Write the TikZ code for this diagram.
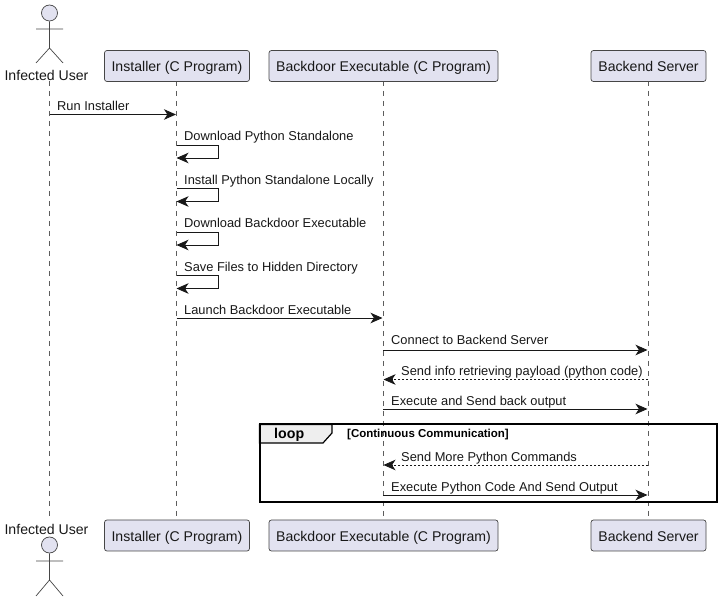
\documentclass[tikz,border=0pt]{standalone}
\usepackage{fontspec}
\setmainfont{Liberation Sans}
\usetikzlibrary{arrows.meta}
\definecolor{pfill}{HTML}{E2E2F0}
\definecolor{pline}{HTML}{181818}
\definecolor{tabfill}{HTML}{EEEEEE}
\tikzset{
  part/.style={draw=pline!80,line width=0.7pt,fill=pfill,rounded corners=2.5pt,minimum height=31pt,inner sep=0pt,text height=13pt,text depth=1.6pt,font=\fontsize{14.1}{16}\selectfont,text=pline},
  lifeline/.style={draw=pline!70,line width=0.6pt,dash pattern=on 5pt off 5pt},
  headtip/.style={-{Stealth[inset=3.4pt,length=12pt,width=10.5pt,fill=pline]}},
  msg/.style={headtip,draw=pline,line width=0.9pt},
  reply/.style={msg,line width=0.7pt,dash pattern=on 2pt off 2pt},
  lbl/.style={anchor=base west,inner sep=0pt,font=\fontsize{12.85}{15}\selectfont,text=pline},
  actorhead/.style={draw=pline!80,line width=0.7pt,fill=pfill,circle,minimum size=16pt,inner sep=0pt},
  actorline/.style={draw=pline!80,line width=0.7pt},
  actorname/.style={inner sep=0pt,font=\fontsize{14.1}{16}\selectfont,text=pline},
  frameline/.style={draw=black,line width=2pt},
  tabshape/.style={draw=black,line width=1.2pt,fill=tabfill},
}
\begin{document}
\begin{tikzpicture}[x=1pt,y=-1pt]
\useasboundingbox (0,0) rectangle (721,601);
% lifeline ends
\coordinate (ut) at (49.5,81); \coordinate (ub) at (49.5,519);
\coordinate (it) at (176.5,81); \coordinate (ib) at (176.5,519);
\coordinate (bt) at (383,81); \coordinate (bb) at (383,519);
\coordinate (st) at (648,81); \coordinate (sb) at (648,519);
\draw[lifeline] (ut)--(ub);
\draw[lifeline] (it)--(ib);
\draw[lifeline] (bt)--(bb);
\draw[lifeline] (st)--(sb);
% participants top
\node[part,minimum width=145pt] (i1) at (177,66) {Installer (C Program)};
\node[part,minimum width=229pt] (b1) at (383.5,66) {Backdoor Executable (C Program)};
\node[part,minimum width=115pt] (s1) at (648.5,66) {Backend Server};
% participants bottom
\node[part,minimum width=145pt] (i2) at (177,535.5) {Installer (C Program)};
\node[part,minimum width=229pt] (b2) at (383.5,535.5) {Backdoor Executable (C Program)};
\node[part,minimum width=115pt] (s2) at (648.5,535.5) {Backend Server};
% actor top
\node[actorhead] (h1) at (49.5,13) {};
\coordinate (n1) at (49.5,48); \coordinate (a1l) at (36,29); \coordinate (a1r) at (63,29);
\coordinate (l1l) at (36,63); \coordinate (l1r) at (63,63);
\draw[actorline] (h1.south)--(n1) (a1l)--(a1r) (l1l)--(n1)--(l1r);
\node[actorname] (u1) at (46.5,75) {Infected User};
% actor bottom
\node[actorname] (u2) at (46.5,529.5) {Infected User};
\node[actorhead] (h2) at (49.5,545) {};
\coordinate (n2) at (49.5,580); \coordinate (a2l) at (36,561); \coordinate (a2r) at (63,561);
\coordinate (l2l) at (36,596); \coordinate (l2r) at (63,596);
\draw[actorline] (h2.south)--(n2) (a2l)--(a2r) (l2l)--(n2)--(l2r);
% loop frame
\coordinate (f1) at (259.5,424.5); \coordinate (f2) at (716.5,502.5);
\draw[tabshape] (f1)--(332,424.5)--(332,433)--(323,443)--(259.5,443)--cycle;
\draw[frameline] (f1) rectangle (f2);
\node[anchor=base west,inner sep=0pt,font=\bfseries\fontsize{14.2}{16}\selectfont] (lp) at (274,439) {loop};
\node[anchor=base west,inner sep=0pt,font=\bfseries\fontsize{11.5}{13}\selectfont] (gd) at (347,438) {[Continuous Communication]};
% messages
\coordinate (m1a) at (49.5,114.5); \coordinate (m1b) at (176,114.5);
\draw[msg] (m1a)--(m1b);
\node[lbl] (t1) at (57,111) {Run Installer};
\foreach \n/\ya/\yb/\yt/\txt in {2/145/158/141/Download Python Standalone,3/188.5/201.5/185/Install Python Standalone Locally,4/232/245/228/Download Backdoor Executable,5/275.5/288.5/272/Save Files to Hidden Directory}{
  \coordinate (s\n a) at (176.5,\ya);
  \coordinate (s\n b) at (176.5,\yb);
  \draw[msg] (s\n a)-|(218.5,\yb)--(s\n b);
  \node[lbl] (t\n) at (184,\yt) {\txt};
}
\coordinate (m6a) at (176.5,318); \coordinate (m6b) at (382.5,318);
\draw[msg] (m6a)--(m6b);
\node[lbl] (t6) at (184,315) {Launch Backdoor Executable};
\coordinate (m7a) at (383,350); \coordinate (m7b) at (647.5,350);
\draw[msg] (m7a)--(m7b);
\node[lbl] (t7) at (391,345) {Connect to Backend Server};
\coordinate (m8a) at (648,379.5); \coordinate (m8b) at (383.5,379.5);
\draw[reply] (m8a)--(m8b);
\node[lbl] (t8) at (401,376) {Send info retrieving payload (python code)};
\coordinate (m9a) at (383,409); \coordinate (m9b) at (647.5,409);
\draw[msg] (m9a)--(m9b);
\node[lbl] (t9) at (391,406) {Execute and Send back output};
\coordinate (m10a) at (648,465); \coordinate (m10b) at (383.5,465);
\draw[reply] (m10a)--(m10b);
\node[lbl] (t10) at (401,462) {Send More Python Commands};
\coordinate (m11a) at (383,495); \coordinate (m11b) at (647.5,495);
\draw[msg] (m11a)--(m11b);
\node[lbl] (t11) at (391,492) {Execute Python Code And Send Output};
\end{tikzpicture}
\end{document}
